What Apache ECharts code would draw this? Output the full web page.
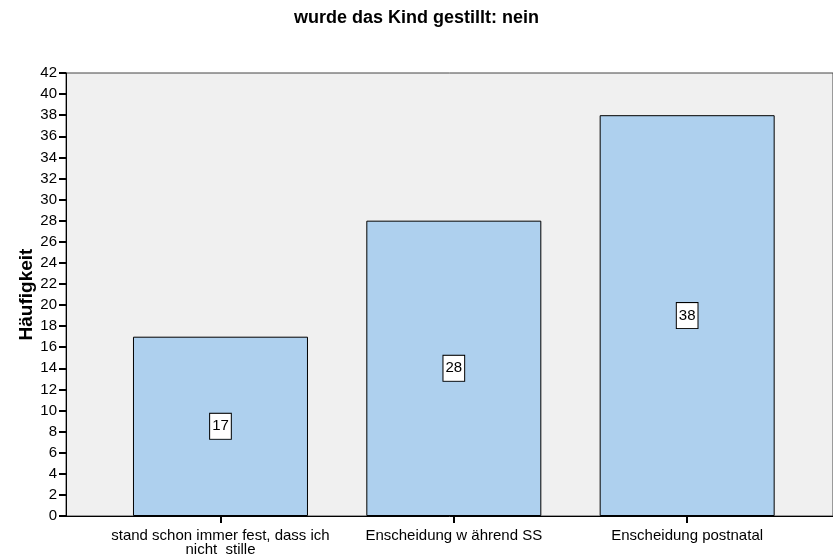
<!DOCTYPE html>
<html>
<head>
<meta charset="utf-8">
<script src="https://cdn.jsdelivr.net/npm/echarts@6/dist/echarts.min.js"></script>
<style>
  html, body { margin: 0; padding: 0; background: #ffffff; }
  #chart { width: 833px; height: 558px; }
</style>
</head>
<body>
<div id="chart"></div>
<script>
// Antwortkategorien und Häufigkeiten
const categories = [
  'stand schon immer fest, dass ich\nnicht  stille',
  'Enscheidung w ährend SS',
  'Enscheidung postnatal'
];
const counts = [17, 28, 38];
const yTicks = { min: 0, max: 42, step: 2 };

const chart = echarts.init(document.getElementById('chart'), null, { renderer: 'canvas' });
const font = 'Arial, "Liberation Sans", sans-serif';

chart.setOption({
  backgroundColor: '#ffffff',
  animation: false,
  title: {
    text: 'wurde das Kind gestillt: nein',
    left: 'center',
    top: 4,
    textStyle: { fontFamily: font, fontSize: 18, fontWeight: 'bold', color: '#000' }
  },
  grid: {
    left: 66, right: -1, top: 73, bottom: 42,
    show: true,
    backgroundColor: '#f0f0f0',
    borderColor: '#444444',
    borderWidth: 1
  },
  xAxis: {
    type: 'value',
    min: -0.662,
    max: 2.625,
    splitLine: { show: false },
    axisLine: { show: true, onZero: false, lineStyle: { color: '#000', width: 1 } },
    axisTick: { show: true, inside: false, length: 7, customValues: [0, 1, 2], lineStyle: { color: '#000', width: 2 } },
    axisLabel: {
      show: true,
      customValues: [0, 1, 2],
      formatter: v => categories[Math.round(v)],
      fontFamily: font, fontSize: 15, color: '#000', margin: 13, lineHeight: 14
    }
  },
  yAxis: {
    type: 'value',
    min: yTicks.min,
    max: yTicks.max,
    interval: yTicks.step,
    name: 'Häufigkeit',
    nameLocation: 'middle',
    nameGap: 30,
    nameMoveOverlap: false,
    nameRotate: 90,
    nameTextStyle: { fontFamily: font, fontSize: 19, fontWeight: 'bold', color: '#000' },
    splitLine: { show: false },
    axisLine: { show: true, onZero: false, lineStyle: { color: '#000', width: 1 } },
    axisTick: { show: true, inside: false, length: 7, lineStyle: { color: '#000', width: 2 } },
    axisLabel: { fontFamily: font, fontSize: 15, color: '#000', margin: 9 }
  },
  series: [{
    type: 'bar',
    data: counts.map((c, i) => [i, c]),
    barWidth: 175,
    itemStyle: { color: '#aed0ee', borderColor: '#000', borderWidth: 1 },
    label: {
      show: true,
      position: 'inside',
      formatter: p => String(p.value[1]),
      fontFamily: font, fontSize: 15, color: '#000',
      backgroundColor: '#ffffff',
      borderColor: '#000',
      borderWidth: 1,
      padding: [6, 2, 4, 2]
    }
  }]
});
</script>
</body>
</html>
